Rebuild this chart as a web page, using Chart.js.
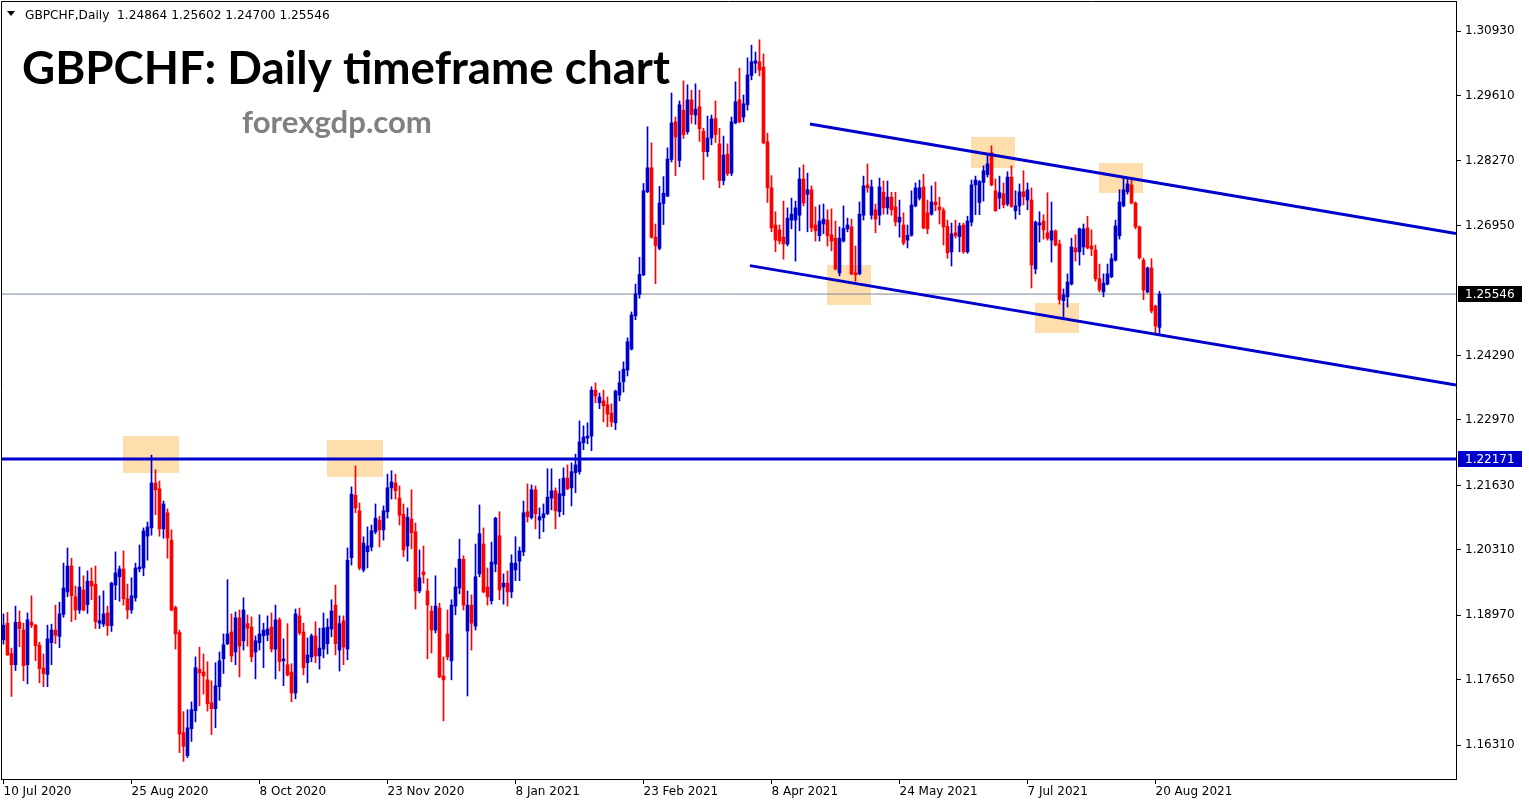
<!DOCTYPE html>
<html>
<head>
<meta charset="utf-8">
<script src="https://cdn.jsdelivr.net/npm/chart.js@4.4.0/dist/chart.umd.min.js"></script>
<style>
  html, body { margin: 0; padding: 0; background: #fff; }
  #wrap { width: 1529px; height: 807px; }
</style>
</head>
<body>
<div id="wrap"><canvas id="chart" width="1529" height="807"></canvas></div>
<script>
// GBPCHF daily bars, 10 Jul 2020 .. 23 Aug 2021 (one entry per bar)
const opens = [
  1.1847,1.1881,1.1819,1.1796,1.1883,1.1867,1.1796,1.1883,1.1877,1.1836,
  1.1789,1.1776,1.1841,1.1867,1.1854,1.1899,1.1945,1.1998,1.1935,1.1908,
  1.1949,1.1919,1.1967,1.1961,1.1881,1.1879,1.1902,1.1876,1.1959,1.1976,
  1.1992,1.1931,1.1908,1.1933,1.1992,1.1994,1.2059,1.2076,1.2168,1.2156,
  1.2074,1.2107,1.2051,1.1913,1.1862,1.1657,1.1610,1.1665,1.1702,1.1787,
  1.1781,1.1765,1.1718,1.1706,1.1751,1.1808,1.1839,1.1863,1.1822,1.1892,
  1.1845,1.1880,1.1873,1.1822,1.1841,1.1855,1.1857,1.1873,1.1828,1.1888,
  1.1804,1.1796,1.1781,1.1738,1.1896,1.1863,1.1800,1.1812,1.1855,1.1814,
  1.1828,1.1839,1.1869,1.1918,1.1826,1.1886,1.1828,1.2015,1.2143,1.2111,
  1.1990,1.2027,1.2037,1.2068,1.2092,1.2072,1.2109,1.2158,1.2168,1.2137,
  1.2104,1.2039,1.2094,1.2068,1.1947,1.1986,1.1947,1.1906,1.1867,1.1912,
  1.1773,1.1859,1.1804,1.1916,1.1953,1.2012,1.1865,1.1918,1.1875,1.1982,
  1.2043,1.1955,1.1927,1.2002,1.2060,1.1955,1.1963,1.1945,1.1990,1.2008,
  1.2027,1.2109,1.2097,1.2154,1.2092,1.2097,1.2105,1.2137,1.2152,1.2109,
  1.2142,1.2178,1.2158,1.2189,1.2191,1.2250,1.2260,1.2264,1.2358,1.2332,
  1.2336,1.2328,1.2311,1.2291,1.2348,1.2375,1.2399,1.2442,1.2510,1.2554,
  1.2594,1.2764,1.2813,1.2671,1.2648,1.2740,1.2755,1.2830,1.2907,1.2828,
  1.2931,1.2887,1.2952,1.2921,1.2938,1.2888,1.2846,1.2874,1.2914,1.2862,
  1.2787,1.2841,1.2802,1.2905,1.2952,1.2917,1.2942,1.3002,1.3027,1.3030,
  1.3019,1.2866,1.2772,1.2696,1.2686,1.2671,1.2657,1.2706,1.2706,1.2716,
  1.2790,1.2759,1.2768,1.2696,1.2674,1.2698,1.2706,1.2676,1.2669,1.2598,
  1.2663,1.2688,1.2692,1.2598,1.2596,1.2716,1.2778,1.2716,1.2727,1.2716,
  1.2763,1.2731,1.2753,1.2733,1.2702,1.2696,1.2665,1.2675,1.2735,1.2751,
  1.2774,1.2721,1.2718,1.2743,1.2733,1.2726,1.2693,1.2641,1.2680,1.2672,
  1.2696,1.2641,1.2702,1.2778,1.2742,1.2783,1.2799,1.2844,1.2766,1.2751,
  1.2760,1.2739,1.2794,1.2725,1.2735,1.2764,1.2747,1.2747,1.2606,1.2696,
  1.2704,1.2680,1.2665,1.2684,1.2657,1.2541,1.2549,1.2575,1.2649,1.2641,
  1.2651,1.2690,1.2653,1.2645,1.2586,1.2559,1.2575,1.2590,1.2624,1.2674,
  1.2735,1.2764,1.2778,1.2741,1.2692,1.2624,1.2559,1.2608,1.2530,1.24864
];
const highs = [
  1.1900,1.1903,1.1830,1.1916,1.1906,1.1881,1.1902,1.1937,1.1879,1.1842,
  1.1818,1.1877,1.1879,1.1918,1.1924,1.2004,1.2035,1.2014,1.1957,1.1996,
  1.1978,1.1988,1.1994,1.1998,1.1937,1.1947,1.1916,1.1965,1.2027,1.1998,
  1.2029,1.1961,1.1974,1.2004,1.2041,1.2076,1.2088,1.2225,1.2195,1.2172,
  1.2131,1.2115,1.2072,1.1916,1.1867,1.1700,1.1704,1.1720,1.1812,1.1832,
  1.1818,1.1802,1.1763,1.1800,1.1822,1.1859,1.1970,1.1900,1.1904,1.1908,
  1.1933,1.1898,1.1894,1.1855,1.1898,1.1881,1.1896,1.1902,1.1918,1.1892,
  1.1849,1.1880,1.1798,1.1910,1.1912,1.1881,1.1851,1.1859,1.1884,1.1871,
  1.1902,1.1890,1.1929,1.1959,1.1896,1.1896,1.2035,1.2160,1.2203,1.2127,
  1.2058,1.2078,1.2082,1.2125,1.2100,1.2121,1.2186,1.2193,1.2186,1.2162,
  1.2125,1.2117,1.2154,1.2086,1.2031,1.2039,1.1972,1.1916,1.1978,1.1922,
  1.1812,1.1908,1.1929,1.1994,1.2053,1.2019,1.1947,1.1939,1.2043,1.2123,
  1.2076,1.1994,1.2047,1.2098,1.2109,1.1982,1.1988,1.2021,1.2058,1.2037,
  1.2131,1.2166,1.2164,1.2162,1.2117,1.2125,1.2197,1.2197,1.2158,1.2176,
  1.2199,1.2205,1.2209,1.2227,1.2295,1.2285,1.2291,1.2365,1.2373,1.2352,
  1.2358,1.2344,1.2330,1.2358,1.2397,1.2416,1.2465,1.2518,1.2575,1.2630,
  1.2781,1.2897,1.2864,1.2698,1.2775,1.2795,1.2854,1.2966,1.2917,1.2950,
  1.2991,1.2983,1.2972,1.2985,1.2972,1.2894,1.2919,1.2921,1.2950,1.2894,
  1.2878,1.2862,1.2917,1.2989,1.3017,1.2962,1.3038,1.3064,1.3050,1.3075,
  1.3046,1.2884,1.2797,1.2723,1.2696,1.2745,1.2731,1.2751,1.2745,1.2813,
  1.2819,1.2802,1.2776,1.2733,1.2737,1.2739,1.2727,1.2729,1.2704,1.2692,
  1.2735,1.2710,1.2708,1.2653,1.2743,1.2796,1.2821,1.2788,1.2739,1.2792,
  1.2786,1.2786,1.2763,1.2763,1.2747,1.2721,1.2696,1.2766,1.2782,1.2788,
  1.2800,1.2747,1.2776,1.2784,1.2753,1.2731,1.2706,1.2700,1.2706,1.2700,
  1.2700,1.2714,1.2788,1.2796,1.2787,1.2817,1.2841,1.2858,1.2790,1.2796,
  1.2782,1.2805,1.2817,1.2766,1.2780,1.2807,1.2782,1.2772,1.2704,1.2723,
  1.2717,1.2762,1.2743,1.2686,1.2665,1.2565,1.2596,1.2669,1.2676,1.2690,
  1.2698,1.2714,1.2686,1.2655,1.2616,1.2596,1.2616,1.2637,1.2706,1.2768,
  1.2792,1.2792,1.2790,1.2743,1.2694,1.2628,1.2610,1.2627,1.2532,1.25602
];
const lows = [
  1.1838,1.1815,1.1731,1.1784,1.1833,1.1763,1.1757,1.1872,1.1804,1.1759,
  1.1751,1.1751,1.1796,1.1839,1.1831,1.1893,1.1935,1.1884,1.1888,1.1901,
  1.1906,1.1901,1.1929,1.1870,1.1870,1.1874,1.1856,1.1864,1.1929,1.1926,
  1.1918,1.1890,1.1901,1.1926,1.1986,1.1978,1.2010,1.2061,1.2103,1.2059,
  1.2055,1.2014,1.1906,1.1828,1.1616,1.1598,1.1606,1.1639,1.1679,1.1712,
  1.1736,1.1701,1.1653,1.1667,1.1723,1.1778,1.1837,1.1802,1.1796,1.1771,
  1.1826,1.1834,1.1802,1.1767,1.1826,1.1790,1.1845,1.1822,1.1767,1.1783,
  1.1753,1.1773,1.1720,1.1726,1.1857,1.1775,1.1759,1.1802,1.1800,1.1787,
  1.1810,1.1818,1.1853,1.1816,1.1783,1.1796,1.1806,1.2000,1.2107,1.1990,
  1.1986,1.1994,1.2029,1.2064,1.2037,1.2051,1.2096,1.2135,1.2135,1.2082,
  1.2017,1.2008,1.2033,1.1910,1.1943,1.1963,1.1808,1.1820,1.1861,1.1769,
  1.1681,1.1806,1.1765,1.1898,1.1941,1.1908,1.1732,1.1826,1.1867,1.1976,
  1.1943,1.1918,1.1920,1.1986,1.1929,1.1920,1.1916,1.1933,1.1968,1.1968,
  1.2019,1.2088,1.2094,1.2074,1.2054,1.2068,1.2103,1.2113,1.2074,1.2099,
  1.2103,1.2154,1.2121,1.2148,1.2186,1.2236,1.2248,1.2234,1.2332,1.2320,
  1.2293,1.2283,1.2283,1.2277,1.2336,1.2354,1.2387,1.2440,1.2502,1.2546,
  1.2592,1.2762,1.2669,1.2576,1.2645,1.2697,1.2754,1.2825,1.2797,1.2815,
  1.2873,1.2882,1.2904,1.2902,1.2867,1.2789,1.2836,1.2860,1.2865,1.2772,
  1.2778,1.2797,1.2797,1.2903,1.2905,1.2907,1.2931,1.2993,1.3007,1.3001,
  1.2862,1.2742,1.2682,1.2641,1.2657,1.2626,1.2653,1.2688,1.2622,1.2684,
  1.2735,1.2682,1.2682,1.2663,1.2663,1.2678,1.2653,1.2643,1.2604,1.2592,
  1.2661,1.2682,1.2594,1.2581,1.2594,1.2706,1.2763,1.2708,1.2680,1.2696,
  1.2718,1.2718,1.2716,1.2694,1.2671,1.2655,1.2649,1.2673,1.2733,1.2747,
  1.2688,1.2678,1.2716,1.2725,1.2698,1.2655,1.2628,1.2612,1.2669,1.2641,
  1.2638,1.2638,1.2694,1.2717,1.2717,1.2745,1.2794,1.2776,1.2724,1.2729,
  1.2731,1.2735,1.2732,1.2708,1.2717,1.2737,1.2727,1.2567,1.2596,1.2661,
  1.2667,1.2665,1.2620,1.2653,1.2534,1.2502,1.2528,1.2573,1.2622,1.2614,
  1.2635,1.2647,1.2633,1.2581,1.2559,1.2549,1.2573,1.2588,1.2622,1.2667,
  1.2733,1.2759,1.2739,1.2688,1.2626,1.2543,1.2557,1.2516,1.2473,1.24700
];
const closes = [
  1.1877,1.1816,1.1796,1.1883,1.1870,1.1794,1.1888,1.1877,1.1835,1.1788,
  1.1778,1.1849,1.1867,1.1856,1.1900,1.1953,1.1998,1.1937,1.1908,1.1955,
  1.1908,1.1967,1.1957,1.1884,1.1886,1.1900,1.1876,1.1963,1.1984,1.1992,
  1.1931,1.1908,1.1937,1.1994,1.1996,1.2070,1.2078,1.2168,1.2154,1.2074,
  1.2125,1.2055,1.1908,1.1859,1.1654,1.1629,1.1667,1.1704,1.1790,1.1779,
  1.1773,1.1716,1.1706,1.1753,1.1804,1.1837,1.1859,1.1814,1.1892,1.1834,
  1.1908,1.1871,1.1812,1.1845,1.1859,1.1867,1.1869,1.1828,1.1888,1.1802,
  1.1808,1.1775,1.1738,1.1900,1.1861,1.1790,1.1816,1.1855,1.1814,1.1830,
  1.1871,1.1873,1.1906,1.1839,1.1880,1.1832,1.2010,1.2145,1.2117,1.1994,
  1.2045,1.2039,1.2070,1.2096,1.2072,1.2111,1.2158,1.2170,1.2152,1.2102,
  1.2031,1.2098,1.2066,1.1947,1.1974,1.1980,1.1918,1.1867,1.1916,1.1771,
  1.1765,1.1812,1.1918,1.1955,1.2012,1.1918,1.1918,1.1881,1.1976,1.2064,
  1.1945,1.1935,1.2006,1.2096,1.1949,1.1963,1.1945,1.2004,1.2004,1.2029,
  1.2107,1.2099,1.2154,1.2105,1.2099,1.2105,1.2139,1.2152,1.2111,1.2146,
  1.2178,1.2156,1.2191,1.2205,1.2252,1.2262,1.2264,1.2358,1.2346,1.2344,
  1.2326,1.2309,1.2293,1.2356,1.2373,1.2401,1.2457,1.2512,1.2555,1.2595,
  1.2766,1.2813,1.2671,1.2654,1.2741,1.2761,1.2831,1.2905,1.2876,1.2942,
  1.2881,1.2952,1.2922,1.2933,1.2893,1.2846,1.2874,1.2913,1.2881,1.2787,
  1.2839,1.2801,1.2907,1.2948,1.2907,1.2944,1.3003,1.3030,1.3032,1.3013,
  1.2864,1.2772,1.2690,1.2665,1.2663,1.2657,1.2710,1.2718,1.2731,1.2790,
  1.2741,1.2768,1.2690,1.2684,1.2704,1.2708,1.2674,1.2663,1.2606,1.2669,
  1.2689,1.2696,1.2596,1.2594,1.2718,1.2776,1.2772,1.2774,1.2708,1.2774,
  1.2731,1.2753,1.2727,1.2702,1.2712,1.2659,1.2675,1.2737,1.2772,1.2772,
  1.2690,1.2688,1.2743,1.2737,1.2727,1.2692,1.2639,1.2678,1.2674,1.2694,
  1.2641,1.2704,1.2778,1.2788,1.2785,1.2807,1.2821,1.2778,1.2725,1.2762,
  1.2737,1.2794,1.2734,1.2735,1.2764,1.2754,1.2768,1.2614,1.2702,1.2700,
  1.2686,1.2669,1.2684,1.2655,1.2543,1.2553,1.2579,1.2651,1.2641,1.2688,
  1.2688,1.2649,1.2647,1.2586,1.2563,1.2577,1.2596,1.2627,1.2694,1.2743,
  1.2768,1.2780,1.2741,1.2692,1.2629,1.2563,1.2608,1.2520,1.2489,1.25546
];

// axis labels
const dateTickIdx = [0, 32, 64, 96, 128, 160, 192, 224, 256, 288];
const dateLabels = ['10 Jul 2020', '25 Aug 2020', '8 Oct 2020', '23 Nov 2020', '8 Jan 2021',
                    '23 Feb 2021', '8 Apr 2021', '24 May 2021', '7 Jul 2021', '20 Aug 2021'];
const priceTicks = [1.30930, 1.29610, 1.28270, 1.26950, 1.24290, 1.22970,
                    1.21630, 1.20310, 1.18970, 1.17650, 1.16310];

// drawn objects (bar index, price)
const bidPrice = 1.25546;
const levelPrice = 1.22171;
const upperChannel = [[201.6, 1.29027], [363.1, 1.26783]];
const lowerChannel = [[186.6, 1.26128], [363.1, 1.23685]];
// highlighted zones: [fromBar, toBar, topPrice, bottomPrice]
const zones = [
  [29.9, 43.9, 1.22641, 1.21884],
  [80.9, 94.9, 1.22559, 1.21802],
  [205.9, 216.9, 1.26141, 1.25322],
  [241.9, 252.9, 1.28761, 1.28126],
  [273.9, 284.9, 1.28228, 1.27614],
  [257.9, 268.9, 1.25363, 1.24749]
];

const BLUE = '#0000cd';
const RED = '#ff0000';
const X_MIN = -0.625, X_MAX = 363.125;
const Y_MIN = 1.15621, Y_MAX = 1.31544;

const idx = opens.map((o, i) => i);
const bodyData = idx.map(i => ({ x: i, y: [opens[i], closes[i]] }));
const wickData = idx.map(i => ({ x: i, y: [lows[i], highs[i]] }));
const candleColors = idx.map(i => closes[i] >= opens[i] ? BLUE : RED);

function segment(pts) {
  return pts.map(p => ({ x: p[0], y: p[1] }));
}

function fitFont(ctx, text, weight, family, width) {
  ctx.font = weight + ' 100px ' + family;
  const size = 100 * width / ctx.measureText(text).width;
  return weight + ' ' + size.toFixed(2) + 'px ' + family;
}

const zonePlugin = {
  id: 'zones',
  beforeDatasetsDraw(chart) {
    const { ctx, scales: { x, y } } = chart;
    ctx.save();
    ctx.fillStyle = 'rgb(255,222,173)';
    zones.forEach(z => {
      const x1 = x.getPixelForValue(z[0]), x2 = x.getPixelForValue(z[1]);
      const y1 = y.getPixelForValue(z[2]), y2 = y.getPixelForValue(z[3]);
      ctx.fillRect(Math.round(x1), Math.round(y1), Math.round(x2 - x1), Math.round(y2 - y1));
    });
    ctx.restore();
  }
};

const decorPlugin = {
  id: 'decor',
  afterDraw(chart) {
    const { ctx, chartArea: a, scales: { y } } = chart;
    ctx.save();
    // frame (top and left; right and bottom come from the axes)
    ctx.strokeStyle = '#000';
    ctx.lineWidth = 1;
    ctx.beginPath();
    ctx.moveTo(a.left + 0.5, a.bottom);
    ctx.lineTo(a.left + 0.5, a.top + 0.5);
    ctx.lineTo(a.right, a.top + 0.5);
    ctx.stroke();

    // price boxes on the axis
    const boxes = [[bidPrice, '#000000'], [levelPrice, BLUE]];
    ctx.font = '12px "DejaVu Sans"';
    ctx.textBaseline = 'middle';
    ctx.textAlign = 'left';
    boxes.forEach(b => {
      const py = Math.round(y.getPixelForValue(b[0]));
      ctx.fillStyle = b[1];
      ctx.fillRect(a.right + 2, py - 8, 64, 16);
      ctx.fillStyle = '#fff';
      ctx.fillText(b[0].toFixed(5), a.right + 9, py + 0.5);
    });

    // header line
    ctx.fillStyle = '#000';
    ctx.beginPath();
    ctx.moveTo(7, 11); ctx.lineTo(15, 11); ctx.lineTo(11, 16);
    ctx.closePath();
    ctx.fill();
    const head = 'GBPCHF,Daily  1.24864 1.25602 1.24700 1.25546';
    ctx.font = fitFont(ctx, head, 'normal', '"DejaVu Sans"', 305);
    ctx.textBaseline = 'alphabetic';
    ctx.fillText(head, 25, 19);

    // title and site name
    const title = 'GBPCHF: Daily timeframe chart';
    ctx.font = fitFont(ctx, title, 'bold', 'Lato', 648);
    ctx.fillText(title, 22, 84);
    const site = 'forexgdp.com';
    ctx.fillStyle = '#808080';
    ctx.font = fitFont(ctx, site, 'bold', 'Lato', 190);
    ctx.fillText(site, 242, 133);
    ctx.restore();
  }
};

new Chart(document.getElementById('chart'), {
  type: 'bar',
  data: {
    datasets: [
      { type: 'line', data: segment([[X_MIN, bidPrice], [X_MAX, bidPrice]]),
        borderColor: '#778899', borderWidth: 1, pointRadius: 0, order: 6 },
      { type: 'bar', data: wickData, backgroundColor: candleColors,
        barThickness: 1, grouped: false, order: 5 },
      { type: 'bar', data: bodyData, backgroundColor: candleColors,
        barThickness: 3, grouped: false, minBarLength: 1, order: 4 },
      { type: 'line', data: segment([[X_MIN, levelPrice], [X_MAX, levelPrice]]),
        borderColor: BLUE, borderWidth: 3, pointRadius: 0, order: 3 },
      { type: 'line', data: segment(upperChannel),
        borderColor: BLUE, borderWidth: 3, pointRadius: 0, order: 2 },
      { type: 'line', data: segment(lowerChannel),
        borderColor: BLUE, borderWidth: 3, pointRadius: 0, order: 1 }
    ]
  },
  options: {
    responsive: false,
    animation: false,
    devicePixelRatio: 1,
    layout: { padding: { left: 1, top: 1, right: 0, bottom: 0 } },
    plugins: { legend: { display: false }, tooltip: { enabled: false } },
    scales: {
      x: {
        type: 'linear', min: X_MIN, max: X_MAX, offset: false,
        afterBuildTicks: s => { s.ticks = dateTickIdx.map(v => ({ value: v })); },
        afterFit: s => { s.height = 28; s.paddingLeft = 0; s.paddingRight = 0; },
        ticks: {
          callback: (v, i) => dateLabels[i],
          align: 'start', autoSkip: false, maxRotation: 0, minRotation: 0,
          padding: 1, color: '#000', font: { family: 'DejaVu Sans', size: 12 }
        },
        grid: { drawOnChartArea: false, drawTicks: true, tickLength: 5, color: '#000', offset: false },
        border: { display: true, color: '#000', width: 1 }
      },
      y: {
        position: 'right', min: Y_MIN, max: Y_MAX,
        afterBuildTicks: s => { s.ticks = priceTicks.map(v => ({ value: v })); },
        afterFit: s => { s.width = 73; s.paddingTop = 0; s.paddingBottom = 0; },
        ticks: {
          callback: v => v.toFixed(5), autoSkip: false,
          padding: 4, color: '#000', font: { family: 'DejaVu Sans', size: 12 }
        },
        grid: { drawOnChartArea: false, drawTicks: true, tickLength: 5, color: '#000' },
        border: { display: true, color: '#000', width: 1 }
      }
    }
  },
  plugins: [zonePlugin, decorPlugin]
});
</script>
</body>
</html>
